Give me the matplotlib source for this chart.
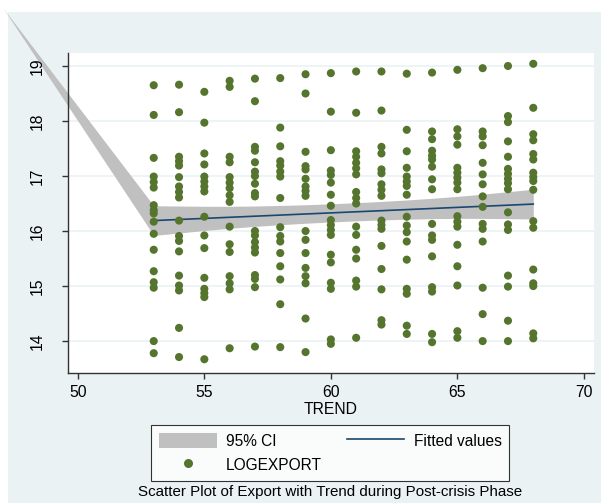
import matplotlib
matplotlib.use("Agg")
import matplotlib.pyplot as plt
from matplotlib.patches import Patch, Rectangle
from matplotlib.lines import Line2D

plt.rcParams['font.family'] = ['Liberation Sans', 'DejaVu Sans']

# ---- data ----
trend_years = [53, 54, 55, 56, 57, 58, 59, 60, 61, 62, 63, 64, 65, 66, 67, 68]
logexport = {
    53: [18.65, 18.11, 17.33, 16.99, 16.89, 16.79, 16.47, 16.38, 16.32, 16.17, 15.95, 15.66, 15.27, 15.07, 14.97, 14.00, 13.78],
    54: [18.66, 18.16, 17.35, 17.27, 17.19, 16.98, 16.81, 16.71, 16.61, 16.19, 15.91, 15.82, 15.63, 15.19, 15.01, 14.92, 14.24, 13.71],
    55: [18.53, 17.97, 17.41, 17.21, 16.99, 16.90, 16.81, 16.72, 16.26, 15.92, 15.69, 15.15, 14.95, 14.87, 14.80, 13.67],
    56: [18.73, 18.62, 17.35, 17.25, 16.98, 16.88, 16.78, 16.65, 16.53, 16.08, 15.76, 15.62, 15.18, 15.05, 14.94, 13.87],
    57: [18.77, 18.36, 17.53, 17.46, 17.25, 17.08, 17.00, 16.86, 16.69, 16.63, 16.00, 15.92, 15.80, 15.70, 15.61, 15.20, 15.13, 14.98, 13.90],
    58: [18.78, 17.88, 17.54, 17.27, 17.19, 17.08, 16.99, 16.60, 16.07, 15.91, 15.81, 15.60, 15.36, 15.12, 14.67, 13.89],
    59: [18.85, 18.50, 17.44, 17.18, 17.12, 16.95, 16.81, 16.73, 16.64, 16.00, 15.84, 15.60, 15.33, 15.18, 15.05, 14.41, 13.80],
    60: [18.87, 18.17, 17.47, 17.10, 17.02, 16.88, 16.66, 16.46, 16.20, 16.11, 16.02, 15.93, 15.57, 15.43, 15.06, 14.95, 14.03, 13.95],
    61: [18.90, 18.15, 17.45, 17.35, 17.24, 17.14, 17.03, 16.71, 16.60, 16.50, 16.08, 15.93, 15.66, 15.50, 15.10, 14.99, 14.06],
    62: [18.90, 18.19, 17.53, 17.41, 17.12, 17.05, 16.85, 16.75, 16.64, 16.19, 16.11, 16.04, 15.73, 15.31, 14.94, 14.38, 14.30],
    63: [18.86, 17.84, 17.45, 17.15, 16.99, 16.90, 16.82, 16.66, 16.26, 16.10, 15.98, 15.81, 15.48, 14.95, 14.86, 14.28, 14.13],
    64: [18.88, 17.81, 17.67, 17.46, 17.37, 17.30, 17.17, 16.94, 16.76, 16.13, 15.92, 15.84, 15.54, 14.98, 14.90, 14.13, 13.98],
    65: [18.93, 17.85, 17.72, 17.57, 17.15, 17.06, 16.97, 16.88, 16.76, 16.27, 16.17, 16.08, 15.75, 15.36, 15.01, 14.18, 14.06],
    66: [18.96, 17.81, 17.72, 17.56, 17.24, 17.03, 16.85, 16.63, 16.44, 16.13, 16.04, 15.81, 14.97, 14.49, 14.00],
    67: [19.00, 18.09, 17.98, 17.63, 17.35, 17.13, 17.04, 16.95, 16.87, 16.76, 16.34, 16.12, 16.02, 15.19, 14.99, 14.37, 14.00],
    68: [19.04, 18.24, 17.76, 17.65, 17.40, 17.30, 17.06, 16.98, 16.91, 16.75, 16.18, 16.06, 15.30, 15.05, 15.00, 14.14, 14.05],
}

fit_x = [53, 54, 55, 56, 57, 58, 59, 60, 61, 62, 63, 64, 65, 66, 67, 68]
fit_y = [16.19, 16.21, 16.23, 16.25, 16.27, 16.29, 16.31, 16.33, 16.35, 16.37, 16.39, 16.41, 16.43, 16.45, 16.47, 16.49]

ci_x = [47.05, 53, 54, 55, 56, 57, 58, 59, 60, 61, 62, 63, 64, 65, 66, 67, 68]
ci_hi = [20.05, 16.46, 16.455, 16.45, 16.45, 16.455, 16.465, 16.478, 16.495, 16.515, 16.538, 16.565, 16.595, 16.63, 16.67, 16.715, 16.76]
ci_lo = [20.05, 15.92, 15.965, 16.01, 16.05, 16.085, 16.115, 16.142, 16.165, 16.185, 16.202, 16.215, 16.225, 16.23, 16.23, 16.225, 16.22]

x_ticks = [50, 55, 60, 65, 70]
y_ticks = [14, 15, 16, 17, 18, 19]

BG = '#EAF2F3'
GREEN = '#55752F'
NAVY = '#1A476F'
GRAY = '#C0C0C0'

W, H = 610, 503
fig = plt.figure(figsize=(W / 100, H / 100), dpi=100)
fig.patch.set_facecolor('white')
fig.add_artist(Rectangle((8 / W, 0), (601 - 8) / W, (H - 12) / H,
                         transform=fig.transFigure, facecolor=BG,
                         edgecolor='none', zorder=-10))

L, R, T, B = 67.7, 594, 53, 373
ax = fig.add_axes([L / W, 1 - B / H, (R - L) / W, (B - T) / H])
ax.set_facecolor('white')
ax.set_xlim(49.6, 70.4)
ax.set_ylim(13.42, 19.236)

for yv in y_ticks:
    ax.axhline(yv, color=BG, lw=1.2, zorder=0)

ax.fill_between(ci_x, ci_lo, ci_hi, color=GRAY, lw=0, zorder=1, clip_on=False)
ax.plot(fit_x, fit_y, color=NAVY, lw=1.2, zorder=2)
xs, ys = [], []
for yr in trend_years:
    for v in logexport[yr]:
        xs.append(yr)
        ys.append(v)
ax.scatter(xs, ys, s=34, color=GREEN, edgecolors='none', zorder=3)

for s in ['top', 'right']:
    ax.spines[s].set_visible(False)
for s in ['left', 'bottom']:
    ax.spines[s].set_color('#333333')
    ax.spines[s].set_linewidth(1.0)

ax.set_xticks(x_ticks)
ax.set_yticks(y_ticks)
ax.tick_params(axis='x', length=4.5, width=1, color='#333333', labelsize=11.3, pad=4)
ax.tick_params(axis='y', length=4.5, width=1, color='#333333', labelsize=11.3, pad=12, labelrotation=90)
for lab in ax.get_yticklabels():
    lab.set_va('center')
ax.set_xlabel('TREND', fontsize=11.3, labelpad=1.5)

h_ci = Patch(facecolor=GRAY, edgecolor='none')
h_pt = Line2D([], [], marker='o', ls='none', color=GREEN, markersize=6.5, markeredgewidth=0)
h_ln = Line2D([], [], color=NAVY, lw=1.2)
leg = fig.legend([h_ci, h_pt, h_ln], ['95% CI', 'LOGEXPORT', 'Fitted values'],
                 ncol=2, loc='upper center', bbox_to_anchor=(330.4 / W, 1 - 425 / H),
                 fontsize=11.2, frameon=True, fancybox=False, edgecolor='black',
                 handlelength=3.7, handleheight=1.1, handletextpad=0.6,
                 columnspacing=1.6, labelspacing=0.55, borderpad=0.5,
                 borderaxespad=0)
leg.get_frame().set_linewidth(0.8)

fig.text(330.4 / W, 1 - 492 / H, 'Scatter Plot of Export with Trend during Post-crisis Phase',
         ha='center', va='center', fontsize=10.9)

fig.savefig('out.png', dpi=100)
